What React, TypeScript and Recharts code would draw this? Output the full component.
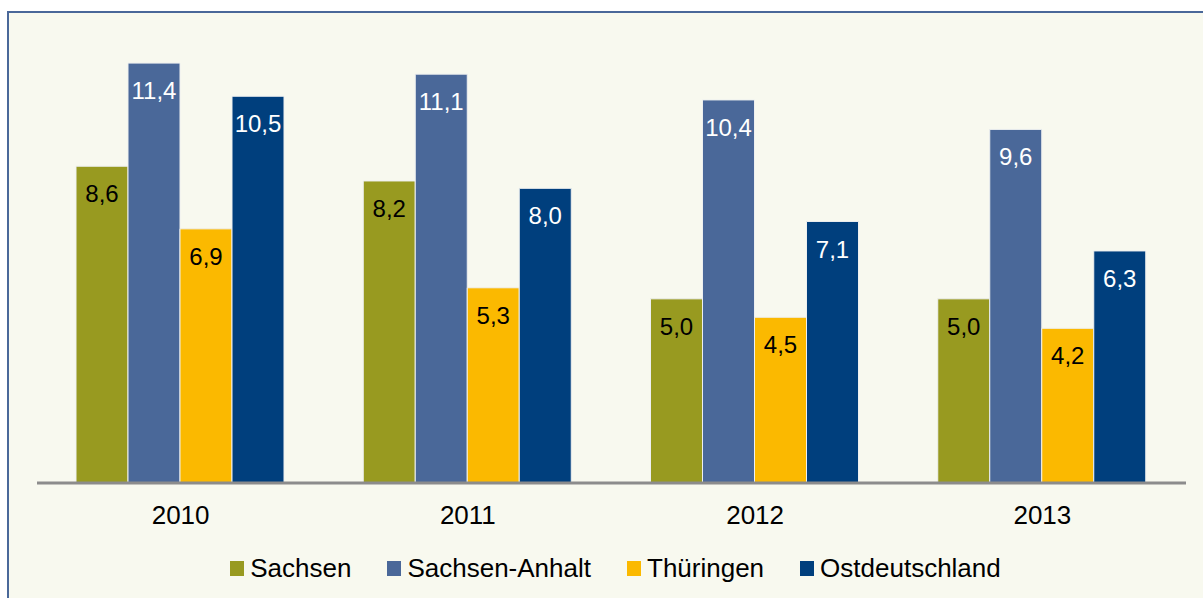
import React from "react";
import { BarChart, Bar, XAxis, YAxis, Legend, LabelList } from "recharts";

const years = ["2010", "2011", "2012", "2013"];
const sachsen = [8.6, 8.2, 5.0, 5.0];
const sachsenAnhalt = [11.4, 11.1, 10.4, 9.6];
const thueringen = [6.9, 5.3, 4.5, 4.2];
const ostdeutschland = [10.5, 8.0, 7.1, 6.3];

const series = [
  { key: "sachsen", name: "Sachsen", color: "#989a20", text: "#000000" },
  { key: "sachsenAnhalt", name: "Sachsen-Anhalt", color: "#4a6899", text: "#ffffff" },
  { key: "thueringen", name: "Thüringen", color: "#fbb900", text: "#000000" },
  { key: "ostdeutschland", name: "Ostdeutschland", color: "#003f7d", text: "#ffffff" },
];

const data = years.map((year, i) => ({
  year,
  sachsen: sachsen[i],
  sachsenAnhalt: sachsenAnhalt[i],
  thueringen: thueringen[i],
  ostdeutschland: ostdeutschland[i],
}));

const font = "'Liberation Sans', Arial, sans-serif";

const fmt = (v: any) => Number(v).toFixed(1).replace(".", ",");

const renderLegend = () => (
  <div
    style={{
      display: "flex",
      justifyContent: "center",
      fontFamily: font,
      fontSize: 26,
      lineHeight: "30px",
      color: "#000",
      paddingLeft: 28,
    }}
  >
    {series.map((s) => (
      <div
        key={s.key}
        style={{ display: "flex", alignItems: "center", margin: "0 18px" }}
      >
        <span
          style={{
            display: "inline-block",
            width: 14,
            height: 15,
            background: s.color,
            marginRight: 6,
          }}
        />
        <span>{s.name}</span>
      </div>
    ))}
  </div>
);

export default function App() {
  return (
    <div
      style={{
        position: "absolute",
        left: 0,
        top: 0,
        width: 1203,
        height: 598,
        overflow: "hidden",
        background: "#ffffff",
      }}
    >
      <div
        style={{
          position: "absolute",
          left: 7,
          top: 11,
          width: 1220,
          height: 620,
          border: "2px solid #4a6899",
          background: "#f8f9ef",
        }}
      />
      <div style={{ position: "absolute", left: 0, top: 0 }}>
        <BarChart
          width={1203}
          height={598}
          data={data}
          margin={{ top: 41, right: 17, left: 37, bottom: 75 }}
          barGap={0}
          barCategoryGap={39}
        >
          <XAxis
            dataKey="year"
            height={40}
            axisLine={{ stroke: "#8c8c8c", strokeWidth: 3 }}
            tickLine={false}
            tick={{ fill: "#000", fontSize: 26, fontFamily: font }}
            tickMargin={17}
          />
          <YAxis hide domain={[0, 12]} />
          <Legend
            verticalAlign="middle"
            align="center"
            content={renderLegend}
            wrapperStyle={{ top: 553, left: 0, width: 1203 }}
          />
          {series.map((s) => (
            <Bar
              key={s.key}
              dataKey={s.key}
              name={s.name}
              fill={s.color}
              stroke="#eef0f0"
              strokeWidth={1}
              isAnimationActive={false}
            >
              <LabelList
                dataKey={s.key}
                position="insideTop"
                offset={19}
                formatter={fmt}
                fill={s.text}
                fontSize={24}
                fontFamily={font}
              />
            </Bar>
          ))}
        </BarChart>
      </div>
    </div>
  );
}
